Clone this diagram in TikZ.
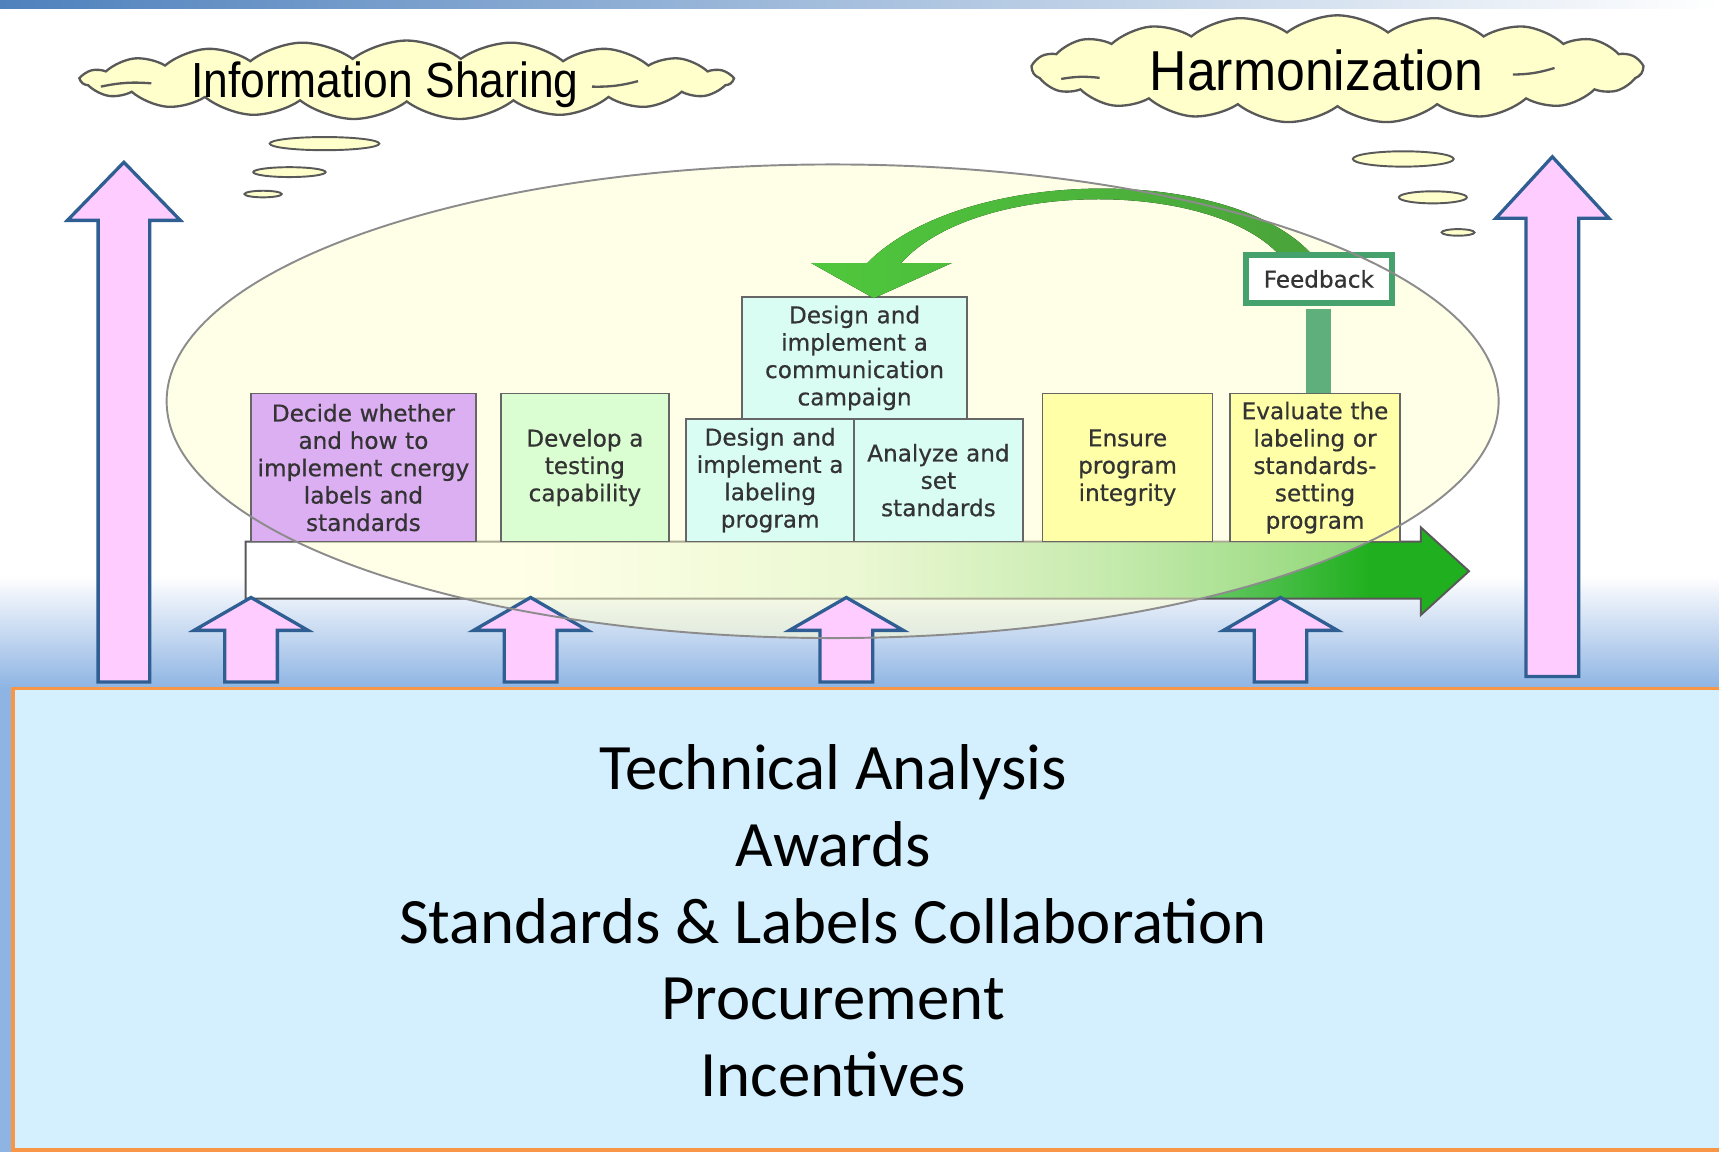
\documentclass[tikz,border=0pt]{standalone}
\usepackage{fontspec}
\setmainfont{Carlito}
\newfontfamily\cloudfont{Liberation Sans}
\newfontfamily\boxfont[FakeBold=0.6]{DejaVu Sans}
\usetikzlibrary{shapes.symbols}

\definecolor{topblue}{HTML}{4F81BD}
\definecolor{bandblue}{HTML}{8EB4E3}
\definecolor{panelblue}{HTML}{D4EFFD}
\definecolor{panelline}{HTML}{F79646}
\definecolor{cloudfill}{HTML}{FFFFCC}
\definecolor{pinkfill}{HTML}{FFCCFF}
\definecolor{arrowline}{HTML}{2F5E93}
\definecolor{ellfill}{HTML}{FFFFD0}
\definecolor{decidefill}{HTML}{DCAEF2}
\definecolor{developfill}{HTML}{DBFDD2}
\definecolor{designfill}{HTML}{D9FDF3}
\definecolor{ensurefill}{HTML}{FFFFA8}
\definecolor{fbgreen}{HTML}{46A26C}
\definecolor{fbbar}{HTML}{5FAF7C}
\definecolor{curveleft}{HTML}{4FC83C}
\definecolor{curveright}{HTML}{4AA33A}
\definecolor{procgreen}{HTML}{20AF1E}

\pgfdeclarehorizontalshading{processshade}{100bp}{color(0bp)=(white); color(36bp)=(white); color(50bp)=(procgreen!18); color(60bp)=(procgreen!50); color(71bp)=(procgreen); color(100bp)=(procgreen)}

% pink block arrow: x, tip y, bottom y, head half width, shaft half width, head height
\newcommand{\pinkarrow}[6]{%
  \draw[pinkup] (#1,#2) -- ({#1+#4},{#2+#6}) -- ({#1+#5},{#2+#6}) -- ({#1+#5},#3)
    -- ({#1-#5},#3) -- ({#1-#5},{#2+#6}) -- ({#1-#4},{#2+#6}) -- cycle;}

\begin{document}
\begin{tikzpicture}[x=0.01cm,y=-0.01cm,
    pinkup/.style={fill=pinkfill,draw=arrowline,line width=0.03cm,line join=miter},
    stepbox/.style n args={2}{draw=black!60,line width=0.4pt,inner sep=0pt,align=center,
      minimum width=#1,text width=#1,minimum height=#2,text=black!80,
      font=\boxfont\fontsize{6}{7.1}\selectfont},
    thought/.style={fill=cloudfill,draw=black!65,line width=0.5pt},
    curl/.style={draw=black!65,line width=0.6pt},
    bigcloud/.style={cloud,cloud ignores aspect,cloud puffs=19,cloud puff arc=75,
      draw=black!65,fill=cloudfill,line width=0.6pt,inner sep=0pt}]
  \useasboundingbox (0,0) rectangle (1568,1051);

  % background bands
  \shade[left color=topblue,right color=white] (0,0) rectangle (1568,8);
  \shade[top color=white,bottom color=bandblue] (0,525) rectangle (1568,628);
  \fill[bandblue] (0,628) rectangle (1568,1051);
  \fill[panelblue,draw=panelline,line width=0.035cm] (12,628) rectangle (1580,1049);

  % activities
  \node[font=\fontsize{16.8}{19.9}\selectfont,align=center] (activities) at (760,840)
    {Technical Analysis\\Awards\\Standards \& Labels Collaboration\\Procurement\\Incentives};

  % clouds
  \node[bigcloud,minimum width=5.93cm,minimum height=0.72cm] (sharecloud) at (371,73) {};
  \node[font=\cloudfont\fontsize{12.8}{13}\selectfont] (sharing) at (351,77)
    {\scalebox{0.9}[1]{Information Sharing}};
  \draw[curl] (92,79) to[bend left=8] (138,76);
  \draw[curl] (540,79) to[bend right=8] (582,74);
  \node[bigcloud,minimum width=5.56cm,minimum height=0.98cm] (harmcloud) at (1220,63) {};
  \node[font=\cloudfont\fontsize{14.6}{15}\selectfont] (harmon) at (1201,64)
    {\scalebox{0.92}[1]{Harmonization}};
  \draw[curl] (968,72) to[bend left=8] (1003,71);
  \draw[curl] (1380,68) to[bend right=8] (1418,62);
  \draw[thought] (296,131) ellipse [x radius=50,y radius=6];
  \draw[thought] (264,157) ellipse [x radius=33,y radius=4.5];
  \draw[thought] (240,177) ellipse [x radius=17,y radius=3];
  \draw[thought] (1280,145) ellipse [x radius=46,y radius=7];
  \draw[thought] (1307,180) ellipse [x radius=31,y radius=5.5];
  \draw[thought] (1330,212) ellipse [x radius=15,y radius=3];

  % big arrows
  \pinkarrow{113}{148}{622}{51.5}{23.5}{53}
  \pinkarrow{1416}{143}{617}{51.5}{24}{56}

  % process arrow
  \shade[shading=processshade,draw=black!65,line width=0.5pt]
    (224,494) -- (1296,494) -- (1296,481) -- (1340,521) -- (1296,561) -- (1296,546)
    -- (224,546) -- cycle;

  % ellipse
  \fill[ellfill,fill opacity=0.5] (759.5,366) ellipse [x radius=607.5,y radius=216];

  % small arrows
  \foreach \ax in {229,484,772,1168}{
    \pinkarrow{\ax}{545}{622}{52}{24}{30}
  }

  % steps
  \node[stepbox={2.05cm}{1.35cm},fill=decidefill] (decide) at (331.5,426.5)
    {Decide whether\\and how to\\implement cnergy\\labels and\\standards};
  \node[stepbox={1.53cm}{1.35cm},fill=developfill] (develop) at (533.5,426.5)
    {Develop a\\testing\\capability};
  \node[stepbox={1.53cm}{1.12cm},fill=designfill] (labeling) at (702.5,438)
    {Design and\\implement a\\labeling\\program};
  \node[stepbox={1.54cm}{1.12cm},fill=designfill] (analyze) at (856,438)
    {Analyze and\\set\\standards};
  \node[stepbox={2.05cm}{1.11cm},fill=designfill] (campaign) at (779.5,326.5)
    {Design and\\implement a\\communication\\campaign};
  \node[stepbox={1.55cm}{1.35cm},fill=ensurefill] (ensure) at (1028.5,426.5)
    {Ensure\\program\\integrity};
  \node[stepbox={1.55cm}{1.35cm},fill=ensurefill] (evaluate) at (1199.5,426.5)
    {Evaluate the\\labeling or\\standards-\\setting\\program};

  % feedback loop
  \fill[left color=curveleft,right color=curveright]
    (1200,236) .. controls (1130,150) and (880,150) .. (791,240) -- (740,240) -- (797,272)
    -- (868,240) -- (822,240) .. controls (890,163) and (1110,163) .. (1170,236) -- cycle;
  \node[stepbox={1.33cm}{0.44cm},draw=fbgreen,line width=0.05cm,fill=white] (feedback)
    at (1203,254.5) {Feedback};
  \draw[fbbar,line width=0.23cm] ([yshift=-0.025cm]feedback.south) -- (feedback.south |- evaluate.north);

  \draw[black!45,line width=0.5pt] (759.5,366) ellipse [x radius=607.5,y radius=216];
\end{tikzpicture}
\end{document}
